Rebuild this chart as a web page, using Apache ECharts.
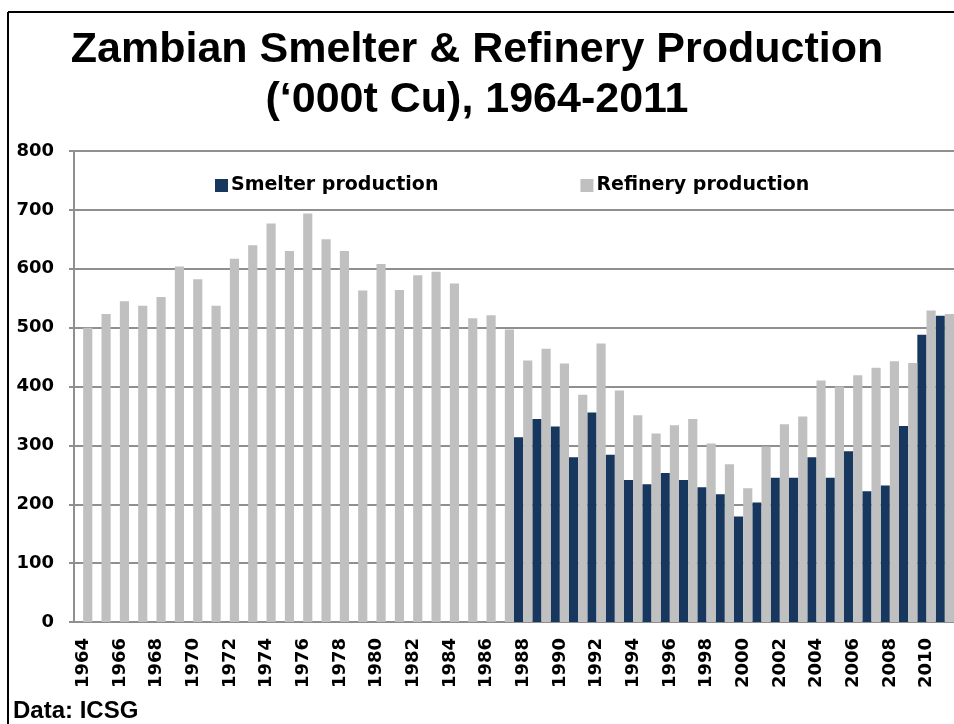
<!DOCTYPE html>
<html>
<head>
<meta charset="utf-8">
<script src="https://cdn.jsdelivr.net/npm/echarts@6/dist/echarts.min.js"></script>
<style>
  body { margin: 0; background: #fff; }
  #main { width: 954px; height: 724px; }
</style>
</head>
<body>
<div id="main"></div>
<script>
var years = ['1964','1965','1966','1967','1968','1969','1970','1971','1972','1973','1974','1975',
  '1976','1977','1978','1979','1980','1981','1982','1983','1984','1985','1986','1987',
  '1988','1989','1990','1991','1992','1993','1994','1995','1996','1997','1998','1999',
  '2000','2001','2002','2003','2004','2005','2006','2007','2008','2009','2010','2011']

// smelter figures only start in 1988
var smelter = [null,null,null,null,null,null,null,null,null,null,null,null,
  null,null,null,null,null,null,null,null,null,null,null,null,
  314,345,332,280,356,284,241,234,253,241,229,217,
  179,203,245,245,280,245,290,222,232,333,488,520]

var refinery = [500,523,545,537,552,604,582,537,617,640,677,630,
  694,650,630,563,608,564,589,595,575,516,521,497,
  444,464,439,386,473,393,351,320,334,345,303,268,
  227,298,336,349,410,400,419,432,443,440,529,523]

var yTicks = { min: 0, max: 800, interval: 100 }

var myChart = echarts.init(document.getElementById('main'))
var labelFont = { color: '#000', fontFamily: 'DejaVu Sans', fontWeight: 'bold', fontSize: 18 }

var option = {
  animation: false,
  title: {
    text: 'Zambian Smelter & Refinery Production\n(\u2018000t Cu), 1964-2011',
    left: 'center',
    top: 25,
    padding: 0,
    textStyle: {
      fontFamily: 'Liberation Sans',
      fontWeight: 'bold',
      fontSize: 43,
      lineHeight: 50,
      color: '#000'
    }
  },
  legend: {
    left: 210,
    top: 171,
    itemGap: 142,
    itemWidth: 13,
    itemHeight: 13,
    icon: 'rect',
    textStyle: { color: '#000', fontFamily: 'DejaVu Sans', fontWeight: 'bold', fontSize: 19, padding: [0, 0, 0, -2] },
    data: ['Smelter production', 'Refinery production']
  },
  grid: { left: 74, top: 151, width: 883, height: 471 },
  xAxis: {
    type: 'category',
    data: years,
    axisLine: { lineStyle: { color: '#8f8f8f', width: 2 } },
    axisTick: { interval: 0, length: 6, lineStyle: { color: '#8f8f8f', width: 2 } },
    axisLabel: Object.assign({ interval: 1, rotate: 90, margin: 16 }, labelFont)
  },
  yAxis: {
    type: 'value',
    min: yTicks.min,
    max: yTicks.max,
    interval: yTicks.interval,
    axisLine: { show: true, lineStyle: { color: '#8f8f8f', width: 2 } },
    axisTick: { show: true, length: 5, lineStyle: { color: '#8f8f8f', width: 2 } },
    splitLine: { lineStyle: { color: '#8f8f8f', width: 2 } },
    axisLabel: Object.assign({ margin: 20 }, labelFont)
  },
  series: [
    {
      name: 'Smelter production',
      type: 'bar',
      data: smelter,
      barGap: '0%',
      barCategoryGap: '0%',
      itemStyle: { color: '#17375e' }
    },
    {
      name: 'Refinery production',
      type: 'bar',
      data: refinery,
      barGap: '0%',
      barCategoryGap: '0%',
      itemStyle: { color: '#c0c0c0' }
    }
  ],
  graphic: [
    // slide frame, top and left edges
    { type: 'line', shape: { x1: 8, y1: 12, x2: 954, y2: 12 }, style: { stroke: '#000', lineWidth: 2 } },
    { type: 'line', shape: { x1: 8, y1: 12, x2: 8, y2: 724 }, style: { stroke: '#000', lineWidth: 2 } },
    {
      type: 'text', left: 13, top: 699,
      style: { text: 'Data: ICSG', fill: '#000', font: 'bold 24px "Liberation Sans"' }
    }
  ]
}

myChart.setOption(option)
</script>
</body>
</html>
